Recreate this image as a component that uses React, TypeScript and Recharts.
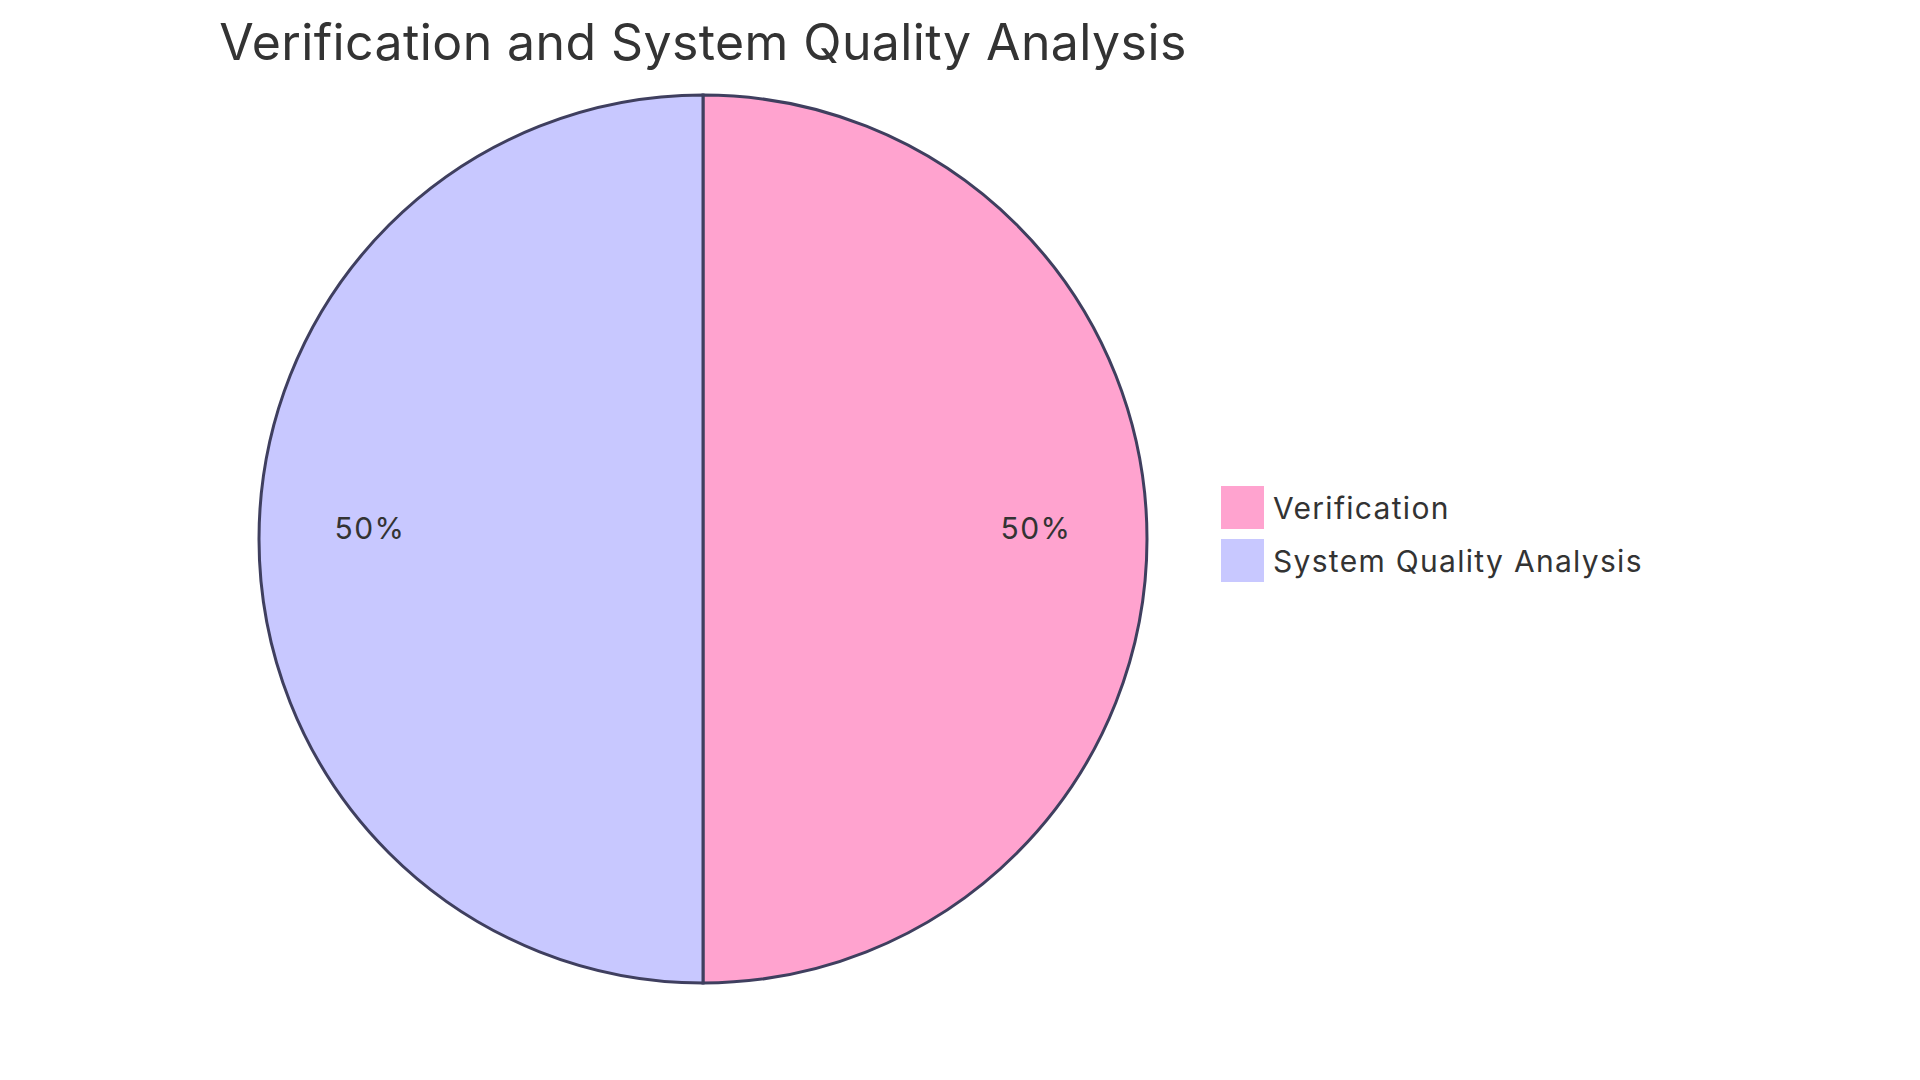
import { PieChart, Pie, Cell, Legend } from "recharts";

const labels = ["Verification", "System Quality Analysis"];
const values = [50, 50];
const colors = ["#FFA3CF", "#C8C8FF"];

const title = "Verification and System Quality Analysis";

const data = labels.map((name, i) => ({ name, value: values[i] }));
const total = values.reduce((a, b) => a + b, 0);

const FONT = "Inter, 'Open Sans', sans-serif";
const RAD = Math.PI / 180;

const renderLabel = (props: any) => {
    const { cx, cy, midAngle, outerRadius, value } = props;
    const r = outerRadius * 0.75;
    const x = cx + r * Math.cos(-midAngle * RAD);
    const y = cy + r * Math.sin(-midAngle * RAD);
    return (
        <text
            x={x}
            y={y}
            textAnchor="middle"
            fill="#333333"
            fontSize={30}
            letterSpacing={1.5}
            fontFamily={FONT}
        >
            {Math.round((value / total) * 100)}%
        </text>
    );
};

// legenda a mano: cuadrados grandes como el original
const CustomLegend = () => (
    <div style={{ fontFamily: FONT }}>
        {labels.map((name, i) => (
            <div
                key={name}
                style={{ display: "flex", alignItems: "center", height: 53 }}
            >
                <div
                    style={{
                        width: 45,
                        height: 45,
                        background: colors[i],
                        border: "1px solid #ffffff",
                        boxSizing: "border-box",
                    }}
                />
                <span
                    style={{
                        marginLeft: 8,
                        fontSize: 30,
                        letterSpacing: 1.3,
                        color: "#333333",
                        whiteSpace: "nowrap",
                    }}
                >
                    {name}
                </span>
            </div>
        ))}
    </div>
);

export default function App() {
    return (
        <div
            style={{
                position: "absolute",
                left: 0,
                top: 0,
                width: 1920,
                height: 1080,
                background: "#ffffff",
            }}
        >
            <div
                style={{
                    position: "absolute",
                    left: 0,
                    width: 1406,
                    top: 9,
                    textAlign: "center",
                    fontFamily: FONT,
                    fontSize: 50,
                    letterSpacing: 0.4,
                    color: "#333333",
                    lineHeight: "66px",
                }}
            >
                {title}
            </div>
            <PieChart width={1920} height={1080}>
                <Pie
                    data={data}
                    dataKey="value"
                    nameKey="name"
                    cx={698}
                    cy={534}
                    outerRadius={444}
                    startAngle={90}
                    endAngle={-270}
                    stroke="#3F3F5F"
                    strokeWidth={3}
                    label={renderLabel}
                    labelLine={false}
                    isAnimationActive={false}
                >
                    {data.map((d, i) => (
                        <Cell key={d.name} fill={colors[i]} />
                    ))}
                </Pie>
                <Legend
                    content={<CustomLegend />}
                    wrapperStyle={{ left: 1220, top: 481, width: 500 }}
                />
            </PieChart>
        </div>
    );
}
